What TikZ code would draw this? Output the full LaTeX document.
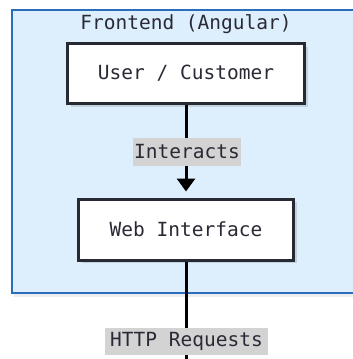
\documentclass[tikz,border=0pt]{standalone}
\usepackage{fontspec}
\setmainfont{DejaVu Sans Mono}
\usetikzlibrary{arrows.meta,shadows}
\definecolor{clfill}{HTML}{DDEEFD}
\definecolor{clline}{HTML}{2A6EBB}
\definecolor{boxline}{HTML}{262A33}
\definecolor{txt}{HTML}{2A2A36}
\definecolor{lblbg}{HTML}{D3D3D3}
\tikzset{
  txtfont/.style={font=\fontsize{19.5}{22}\selectfont, text=txt},
  cluster/.style={draw=clline, line width=2.6pt, fill=clfill},
  box/.style={draw=boxline, line width=3pt, fill=white, txtfont,
    drop shadow={shadow xshift=3pt, shadow yshift=-3pt, fill=black, opacity=0.12}},
  lbl/.style={fill=lblbg, txtfont, inner sep=0pt},
  title/.style={txtfont, inner sep=0pt},
  conn/.style={line width=3pt, draw=black},
}
\begin{document}
\begin{tikzpicture}[x=1pt,y=-1pt]
\useasboundingbox (0,0) rectangle (353,359);
\clip (0,0) rectangle (353,359);
\fill[white] (0,0) rectangle (353,359);
\fill[black!7] (14,13) rectangle (370,297);
\draw[cluster] (12,10) rectangle (370,293);
\node[title] (ttl) at (186,24) {Frontend (Angular)};
\node[box, minimum width=237pt, minimum height=60pt] (user) at (186,73.5) {User / Customer};
\node[box, minimum width=215pt, minimum height=61pt] (web) at (186,229.5) {Web Interface};
\node[lbl, minimum width=108pt, minimum height=28pt] (l1) at (187,152) {Interacts};
\node[lbl, minimum width=163pt, minimum height=27pt] (l2) at (186.5,341.5) {HTTP Requests};
\coordinate (bot) at (186,375);
\draw[conn] (user.south) -- (l1.north -| user.south);
\draw[conn, -{Triangle[length=13pt,width=18pt]}, shorten >=6pt] (l1.south -| user.south) -- (web.north);
\draw[conn] (web.south) -- (l2.north -| web.south);
\draw[conn] (l2.south -| web.south) -- (bot);
\end{tikzpicture}
\end{document}
